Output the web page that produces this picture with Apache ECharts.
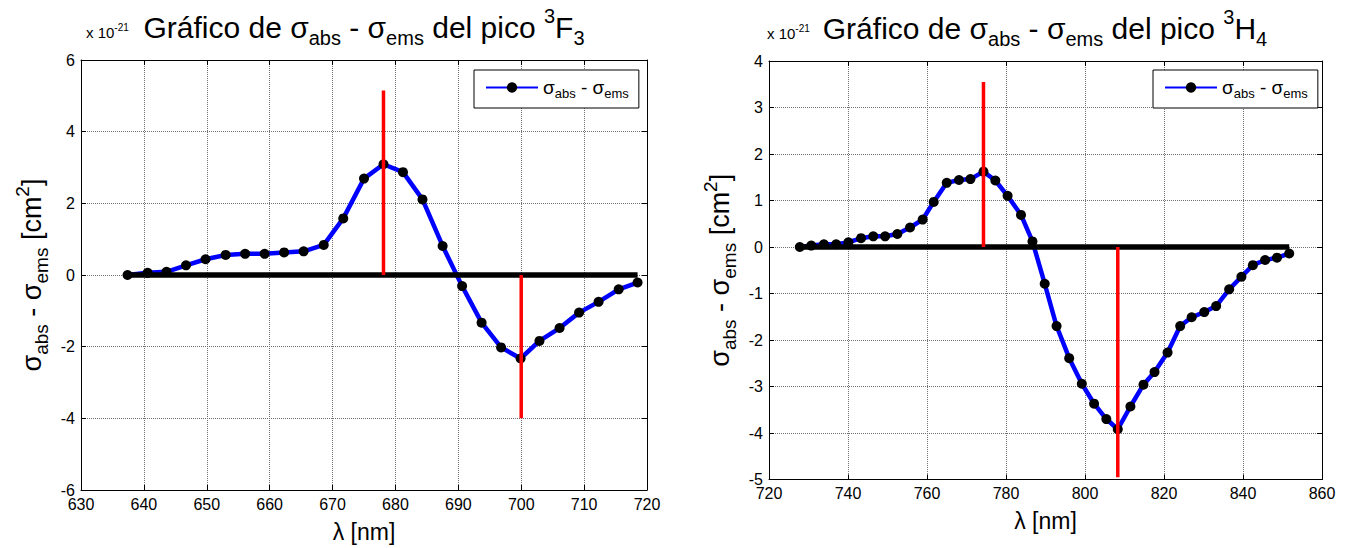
<!DOCTYPE html>
<html>
<head>
<meta charset="utf-8">
<script src="https://cdn.jsdelivr.net/npm/echarts@6/dist/echarts.min.js"></script>
<style>
  html, body { margin: 0; padding: 0; background: #fff; }
  #chart { width: 1349px; height: 548px; }
</style>
</head>
<body>
<div id="chart"></div>
<script>
// ---- 3F3 peak: sigma_abs - sigma_ems (units of 1e-21 cm^2) ----
const wavelengthF3 = [637.4, 640.6, 643.6, 646.7, 649.8, 653.0, 656.1, 659.2, 662.3, 665.4,
                      668.6, 671.7, 675.0, 678.1, 681.2, 684.3, 687.5, 690.6, 693.7, 696.8,
                      699.9, 702.9, 706.1, 709.2, 712.3, 715.5, 718.5];
const sigmaDiffF3 = [0.00, 0.06, 0.09, 0.27, 0.44, 0.56, 0.59, 0.59, 0.63, 0.66,
                     0.84, 1.58, 2.69, 3.09, 2.87, 2.11, 0.81, -0.31, -1.33, -2.02,
                     -2.33, -1.84, -1.48, -1.05, -0.75, -0.40, -0.21];
const zeroSpanF3 = [637.4, 718.5];
const markerXF3 = [678.1, 700.0];
const markerEndF3 = [5.15, -4.0];
const xScaleF3 = [630, 720, 10];   // min, max, step
const yScaleF3 = [-6, 6, 2];

// ---- 3H4 peak ----
const wavelengthH4 = [727.8, 730.7, 733.9, 737.0, 740.1, 743.3, 746.4, 749.4, 752.5, 755.7,
                      758.9, 761.7, 765.0, 768.1, 771.0, 774.3, 777.3, 780.4, 783.8, 786.7,
                      789.8, 792.8, 796.0, 799.2, 802.3, 805.4, 808.3, 811.5, 814.8, 817.6,
                      820.9, 824.1, 827.0, 830.2, 833.2, 836.5, 839.6, 842.5, 845.6, 848.6, 851.7];
const sigmaDiffH4 = [0.00, 0.03, 0.06, 0.06, 0.10, 0.19, 0.23, 0.23, 0.28, 0.42,
                     0.59, 0.97, 1.38, 1.44, 1.46, 1.62, 1.43, 1.10, 0.69, 0.12,
                     -0.79, -1.70, -2.39, -2.94, -3.37, -3.70, -3.92, -3.43, -2.96, -2.69,
                     -2.27, -1.70, -1.51, -1.40, -1.27, -0.91, -0.64, -0.39, -0.28, -0.23, -0.14];
const zeroSpanH4 = [727.8, 851.7];
const markerXH4 = [774.3, 808.3];
const markerEndH4 = [3.55, -4.95];
const xScaleH4 = [720, 860, 20];
const yScaleH4 = [-5, 4, 1];

const FONT = "'Liberation Sans', Arial, Helvetica, sans-serif";

const titleF3 = 'Gráfico de σ';
const legendText = '{m|σ}{b|abs}{m| - σ}{b|ems}';
const yNameText = '{m|σ}{b|abs}{m| - σ}{b|ems}{m| [cm}{p|2}{m|]}';
const xNameText = 'λ [nm]';

// rich-text styles: m = main, b = subscript, p = superscript
function richSet(main, sub, lh, subLh, supLh, colorKey) {
  const c = {}; c[colorKey] = '#000';
  return {
    m: Object.assign({ fontSize: main, fontFamily: FONT, lineHeight: lh, verticalAlign: 'middle' }, c),
    b: Object.assign({ fontSize: sub, fontFamily: FONT, lineHeight: subLh, verticalAlign: 'bottom' }, c),
    p: Object.assign({ fontSize: sub, fontFamily: FONT, lineHeight: supLh, verticalAlign: 'top' }, c)
  };
}

const grids = [
  { left: 81, top: 60, width: 566, height: 432 },
  { left: 769, top: 61, width: 553, height: 418.5 }
];

function axisPair(idx, xs, ys) {
  const base = {
    type: 'value', gridIndex: idx,
    axisLine: { show: true, onZero: false, lineStyle: { color: '#000', width: 1 } },
    axisTick: { show: true, inside: true, length: 5, lineStyle: { color: '#000', width: 1 } }
  };
  const grid = { show: true, lineStyle: { color: '#707070', type: 'dotted', width: 1 } };
  const label = { color: '#000', fontSize: 16, fontFamily: FONT };
  return {
    x: [
      Object.assign({}, base, {
        position: 'bottom', min: xs[0], max: xs[1], interval: xs[2],
        axisLabel: Object.assign({ margin: 6 }, label),
        splitLine: grid,
        name: xNameText, nameLocation: 'middle', nameGap: 30,
        nameTextStyle: { color: '#000', fontSize: 23, fontFamily: FONT }
      }),
      Object.assign({}, base, {
        position: 'top', min: xs[0], max: xs[1], interval: xs[2],
        axisLabel: { show: false }, splitLine: { show: false }
      })
    ],
    y: [
      Object.assign({}, base, {
        position: 'left', min: ys[0], max: ys[1], interval: ys[2],
        axisLabel: Object.assign({ margin: 6 }, label),
        splitLine: grid,
        name: yNameText, nameLocation: 'middle', nameRotate: 90, nameGap: 30,
        nameTextStyle: { rich: richSet(27, 19, 38, 19, 22, 'color') }
      }),
      Object.assign({}, base, {
        position: 'right', min: ys[0], max: ys[1], interval: ys[2],
        axisLabel: { show: false }, splitLine: { show: false }
      })
    ]
  };
}

const axF3 = axisPair(0, xScaleF3, yScaleF3);
const axH4 = axisPair(1, xScaleH4, yScaleH4);

function zip(xs, ys) { return xs.map((x, i) => [x, ys[i]]); }

function seriesFor(idx, name, xs, ys, span, mx, my) {
  const xi = idx * 2, yi = idx * 2;
  const out = [
    {
      type: 'line', name: name, xAxisIndex: xi, yAxisIndex: yi,
      data: zip(xs, ys), symbol: 'circle', symbolSize: 10,
      lineStyle: { color: '#0000ff', width: 4.5 },
      itemStyle: { color: '#000' }, z: 2
    },
    {
      type: 'line', xAxisIndex: xi, yAxisIndex: yi,
      data: [[span[0], 0], [span[1], 0]], symbol: 'none',
      lineStyle: { color: '#000', width: 5.5 }, z: 3, silent: true
    }
  ];
  mx.forEach((x, i) => {
    out.push({
      type: 'line', xAxisIndex: xi, yAxisIndex: yi,
      data: [[x, 0], [x, my[i]]], symbol: 'none',
      lineStyle: { color: '#ff0000', width: 3.5 }, z: 4, silent: true
    });
  });
  return out;
}

function legendFor(name, left, top) {
  return {
    data: [name], left: left, top: top, orient: 'horizontal',
    itemWidth: 52, itemHeight: 13, itemGap: 0,
    padding: [8, 10, 8, 11],
    borderColor: '#000', borderWidth: 1, backgroundColor: '#fff',
    formatter: () => legendText,
    textStyle: { rich: richSet(19, 13, 25, 13, 16, 'color') },
    selectedMode: false
  };
}

const titleRich = richSet(30, 20, 42, 20, 24, 'fill');
const expRich = {
  m: { fontSize: 15, fontFamily: FONT, lineHeight: 20, verticalAlign: 'middle', fill: '#000' },
  p: { fontSize: 10, fontFamily: FONT, lineHeight: 8, verticalAlign: 'top', fill: '#000' }
};

function textItem(x, y, text, rich, align) {
  return { type: 'text', x: x, y: y, silent: true,
           style: { text: text, rich: rich, align: align, verticalAlign: 'top', fill: '#000' } };
}

const option = {
  animation: false,
  backgroundColor: '#fff',
  grid: grids,
  xAxis: axF3.x.concat(axH4.x),
  yAxis: axF3.y.concat(axH4.y),
  legend: [legendFor('sigmaF3', 474, 70), legendFor('sigmaH4', 1153, 70)],
  graphic: [
    textItem(364, 6, '{m|' + titleF3 + '}{b|abs}{m| - σ}{b|ems}{m| del pico }{p|3}{m|F}{b|3}', titleRich, 'center'),
    textItem(1045, 7, '{m|' + titleF3 + '}{b|abs}{m| - σ}{b|ems}{m| del pico }{p|3}{m|H}{b|4}', titleRich, 'center'),
    textItem(86, 22, '{m|x 10}{p|-21}', expRich, 'left'),
    textItem(767, 23, '{m|x 10}{p|-21}', expRich, 'left')
  ],
  series: seriesFor(0, 'sigmaF3', wavelengthF3, sigmaDiffF3, zeroSpanF3, markerXF3, markerEndF3)
    .concat(seriesFor(1, 'sigmaH4', wavelengthH4, sigmaDiffH4, zeroSpanH4, markerXH4, markerEndH4))
};

const chart = echarts.init(document.getElementById('chart'), null, { renderer: 'svg' });
chart.setOption(option);
</script>
</body>
</html>
